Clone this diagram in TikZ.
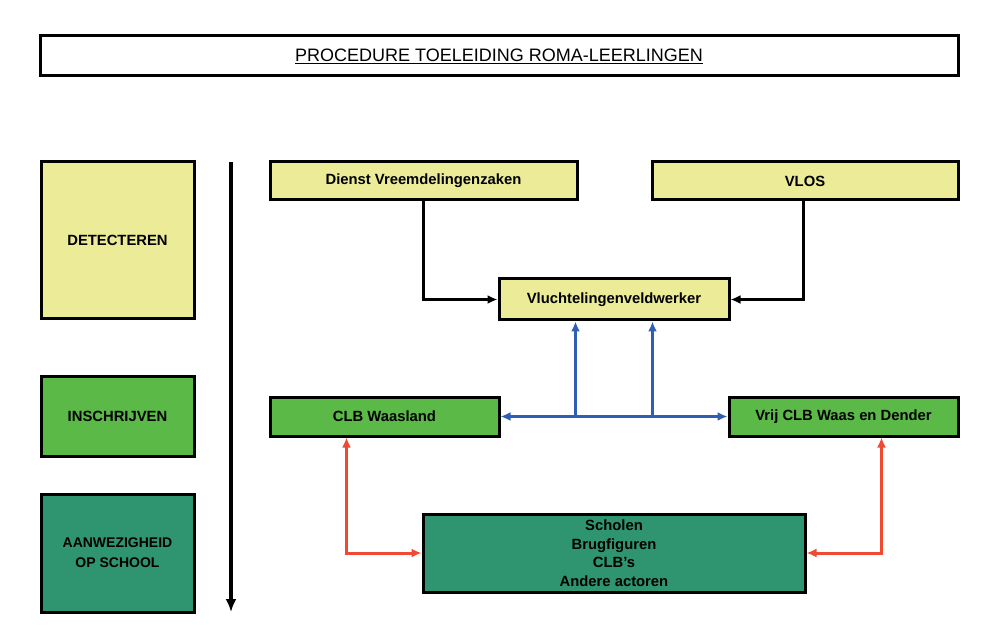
\documentclass[tikz,border=0pt]{standalone}
\usepackage{fontspec}
\setmainfont{Liberation Sans}
\usetikzlibrary{arrows.meta}
\definecolor{ylw}{HTML}{EBEB98}
\definecolor{grn}{HTML}{5BB947}
\definecolor{dgrn}{HTML}{2E9570}
\definecolor{cblue}{HTML}{2F5FB5}
\definecolor{cred}{HTML}{F04A32}
\tikzset{
  tip/.tip={Latex[length=10pt,width=9pt]},
  box/.style={draw=black, line width=3pt, inner sep=0pt, align=center, font=\bfseries\fontsize{14.8}{18}\selectfont},
  conn/.style={line width=3pt, -tip},
  bconn/.style={conn, draw=cblue},
  rconn/.style={line width=3pt, draw=cred, tip-tip},
}
\begin{document}
\begin{tikzpicture}[x=1pt,y=-1pt]
\useasboundingbox[fill=white] (0,0) rectangle (991,636);
% title
\node[draw=black, line width=3pt, minimum width=918pt, minimum height=40pt, font=\fontsize{18}{21}\selectfont] (title) at (499,56) {\underline{PROCEDURE TOELEIDING ROMA-LEERLINGEN}};
% phases
\node[box, fill=ylw, minimum width=153pt, minimum height=157pt] (det) at (117.5,240.5) {DETECTEREN};
\node[box, fill=grn, minimum width=153pt, minimum height=79pt] (ins) at (117.5,416.5) {INSCHRIJVEN};
\node[box, fill=dgrn, minimum width=153pt, minimum height=118pt, font=\bfseries\fontsize{14}{20}\selectfont] (aan) at (117.5,553) {AANWEZIGHEID\\OP SCHOOL};
\coordinate (tA) at (231,162);
\coordinate (tB) at (231,612);
\draw[line width=3.4pt, -{Latex[length=13pt,width=11pt]}] (tA) -- (tB);
% actors
\node[box, fill=ylw, minimum width=307pt, minimum height=38pt] (dvz) at (423.5,181) {Dienst Vreemdelingenzaken};
\node[box, fill=ylw, minimum width=306pt, minimum height=38pt] (vlos) at (805,181) {VLOS};
\node[box, fill=ylw, minimum width=230pt, minimum height=41pt] (vlu) at (614,299.5) {Vluchtelingenveldwerker};
\node[box, fill=grn, minimum width=229pt, minimum height=39pt] (clbw) at (384.5,416.5) {CLB Waasland};
\node[box, fill=grn, minimum width=229pt, minimum height=39pt] (vrij) at (843.5,416.5) {Vrij CLB Waas en Dender};
\node[box, fill=dgrn, minimum width=382pt, minimum height=78pt, font=\bfseries\fontsize{14.8}{18.5}\selectfont] (sch) at (614,553) {Scholen\\Brugfiguren\\CLB's\\Andere actoren};
% black connectors
\draw[conn] (dvz.south) |- (vlu.west);
\draw[conn] ([xshift=-2pt]vlos.south) |- (vlu.east);
% blue connectors
\draw[bconn, tip-tip] (clbw.east) -- (vrij.west);
\coordinate (b1) at (575.5,416.5);
\coordinate (b2) at (652.5,416.5);
\draw[bconn] (b1) -- (b1 |- vlu.south);
\draw[bconn] (b2) -- (b2 |- vlu.south);
% red connectors
\coordinate (r1) at (346.5,0);
\coordinate (r2) at (881.5,0);
\draw[rconn] (clbw.south -| r1) |- (sch.west);
\draw[rconn] (vrij.south -| r2) |- (sch.east);
\end{tikzpicture}
\end{document}
